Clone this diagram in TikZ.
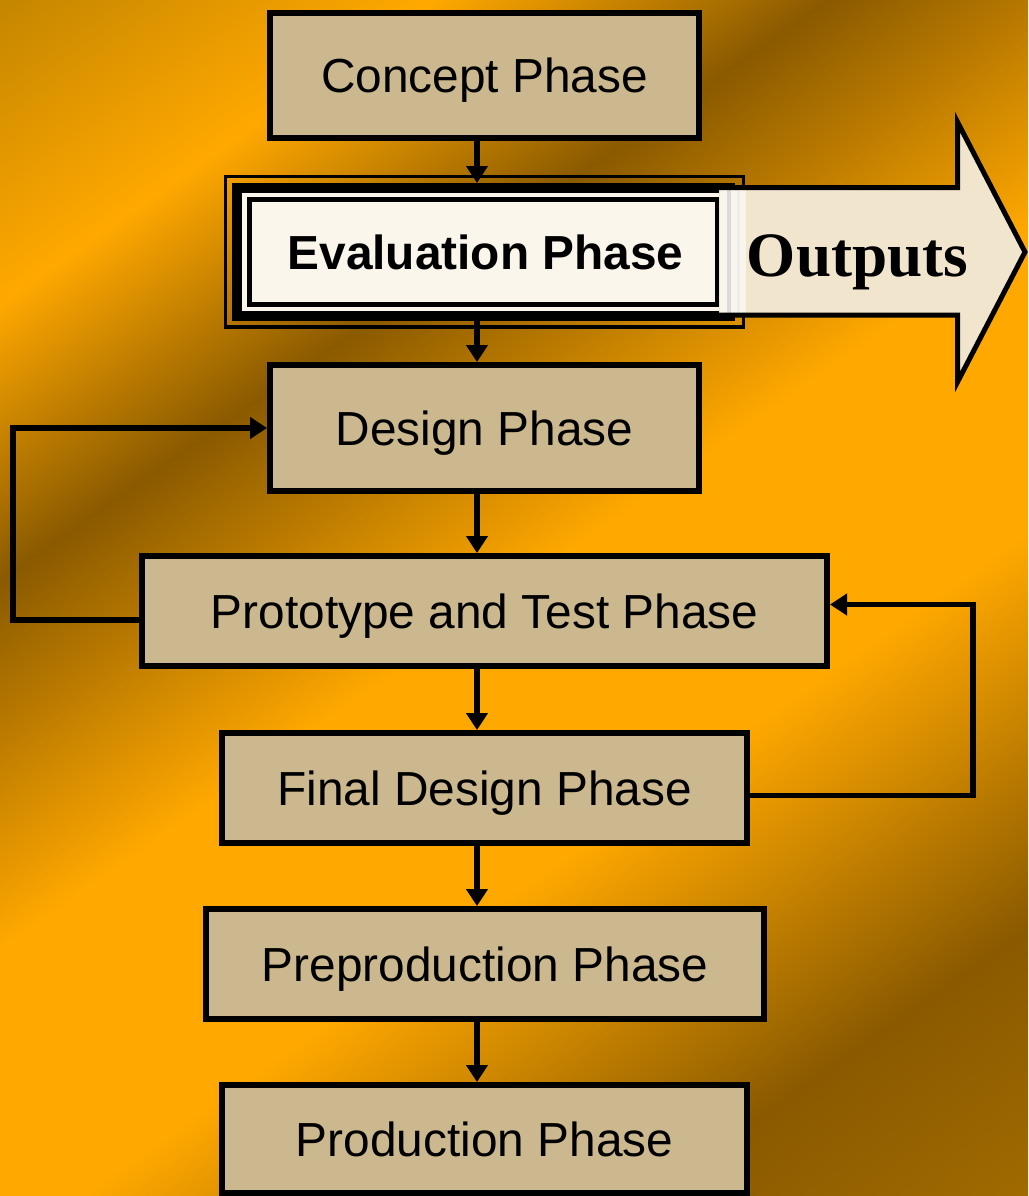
\documentclass[tikz,border=0pt]{standalone}
\usepackage{fontspec}
\setmainfont{Liberation Sans}
\newfontfamily\outfont{Liberation Serif}
\usetikzlibrary{arrows.meta}
\definecolor{bgmed}{RGB}{196,134,0}
\definecolor{bgbright}{RGB}{255,168,0}
\definecolor{bgdark}{RGB}{138,90,0}
\definecolor{bgdm}{RGB}{160,106,0}
\definecolor{boxfill}{RGB}{204,184,142}
\definecolor{evalfill}{RGB}{251,246,236}
\definecolor{arrowfill}{RGB}{242,229,206}
\definecolor{stripgrey}{RGB}{218,218,222}
\pgfdeclarehorizontalshading{bgshade}{100bp}{color(0bp)=(bgmed); color(25.2bp)=(bgmed); color(33bp)=(bgbright); color(40.2bp)=(bgdark); color(49.8bp)=(bgbright); color(57.6bp)=(bgbright); color(67.9bp)=(bgdark); color(74.8bp)=(bgdm); color(100bp)=(bgdm)}
\begin{document}
\begin{tikzpicture}[x=1pt,y=-1pt,
  phase/.style={rectangle, draw=black, line width=6pt, fill=boxfill, inner sep=0pt,
    font=\fontsize{47.8}{56}\selectfont, text height=34.2pt, text depth=0pt},
  frame/.style={rectangle, draw=black, inner sep=0pt},
  conn/.style={line width=5.5pt, -{Triangle[length=17pt,width=21pt]}}]
\useasboundingbox (0,0) rectangle (1028,1196);
\begin{scope}
  \clip (0,0) rectangle (1028,1196);
  \shade[shading=bgshade, shading angle=-55] (-276,-192) rectangle (1304,1388);
\end{scope}

% phase boxes
\node[phase, minimum width=429pt, minimum height=125pt] (concept) at (484.5,75.5) {Concept Phase};
\node[phase, minimum width=429pt, minimum height=126pt] (design) at (484.5,428) {Design Phase};
\node[phase, minimum width=685pt, minimum height=110pt] (proto) at (484.5,611) {Prototype and Test Phase};
\node[phase, minimum width=525pt, minimum height=110pt] (final) at (484.5,788) {Final Design Phase};
\node[phase, minimum width=558pt, minimum height=110pt] (preprod) at (485,964) {Preproduction Phase};
\node[phase, minimum width=525pt, minimum height=108pt] (prod) at (484.5,1139) {Production Phase};

% evaluation phase (triple frame)
\node[frame, line width=3.5pt, minimum width=518pt, minimum height=150.5pt] (evalout) at (484.5,251.75) {};
\node[frame, fill=evalfill, line width=10pt, minimum width=493pt, minimum height=128pt] (eval) at (483.5,252) {};
\node[frame, fill=evalfill, line width=5pt, minimum width=468pt, minimum height=105pt] (evalin) at (483,252) {};
\node[inner sep=0pt, font=\fontsize{47.8}{56}\selectfont\bfseries, text height=34.2pt, text depth=0pt] (evaltext) at (485.5,252) {Evaluation Phase};

% outputs arrow
\fill[arrowfill] (719,187.5) -- (957.5,187.5) -- (957.5,122) -- (1025,252) -- (957.5,382) -- (957.5,315) -- (719,315) -- cycle;
\fill[white!60!arrowfill] (719.5,190) rectangle (746,312.5);
\fill[stripgrey] (727,190) rectangle (731,312.5);
\fill[stripgrey!50!white] (737,190) rectangle (740,312.5);
\draw[line width=5pt] (719,187.5) -- (957.5,187.5) -- (957.5,122) -- (1025,252) -- (957.5,382) -- (957.5,315) -- (719,315);
\node[inner sep=0pt, font=\outfont\bfseries\fontsize{63.2}{70}\selectfont, text height=41.8pt, text depth=0pt] (outputs) at (857.5,256) {Outputs};

% connectors
\coordinate (col) at (477,0);
\draw[conn] (concept.south -| col) -- (eval.north -| col);
\draw[conn] (eval.south -| col) -- (design.north -| col);
\draw[conn] (design.south -| col) -- (proto.north -| col);
\draw[conn] (proto.south -| col) -- (final.north -| col);
\draw[conn] (final.south -| col) -- (preprod.north -| col);
\draw[conn] (preprod.south -| col) -- (prod.north -| col);

\coordinate (lx) at (13,0);
\coordinate (rx) at (973,0);
\coordinate (pl) at ([yshift=-9pt]proto.west);
\coordinate (fr) at ([yshift=-7.5pt]final.east);
\coordinate (pr) at ([yshift=6.5pt]proto.east);
\draw[conn] (pl) -- (pl -| lx) -- (design.west -| lx) -- (design.west);
\draw[conn] (fr) -- (fr -| rx) -- (pr -| rx) -- (pr);
\end{tikzpicture}
\end{document}
